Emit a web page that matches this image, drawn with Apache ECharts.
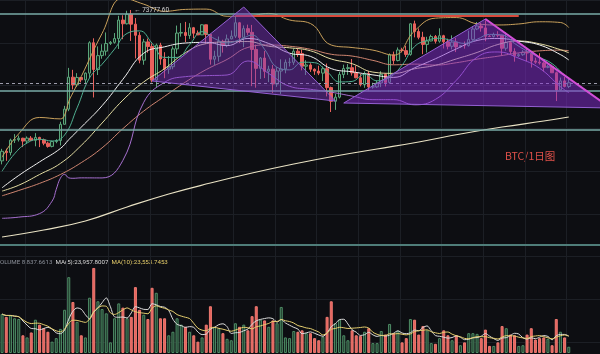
<!DOCTYPE html>
<html><head><meta charset="utf-8">
<script src="https://cdn.jsdelivr.net/npm/echarts@6/dist/echarts.min.js"></script>
<style>html,body{margin:0;padding:0;background:#0d0e12;}#c{width:600px;height:354px;}</style>
</head><body><div id="c"></div>
<script>
// ---- categories (daily, from 2024-02-12; extra empty days on the right) ----
const startDay = Date.UTC(2024, 1, 12);
const categories = [];
for (let i = 0; i < 144; i++) categories.push(new Date(startDay + i * 86400000).toISOString().slice(0, 10));

// ---- candles: [open, close, low, high] ----
const candles = [
[48300,49917,47710,50334],[49917,49699,48300,50368],[49699,51795,49225,52043],[51795,51880,51314,52816],
[51880,52125,51566,52572],[52125,51642,50625,52200],[51642,52137,51216,52431],[52137,51774,51677,52488],
[51774,52258,50760,52985],[52258,51849,50625,52366],[51849,51288,50940,52065],[51288,50744,50525,51548],
[50744,51568,50585,51698],[51568,51728,51279,51958],[51728,54476,50901,54910],[54476,57037,54450,57588],
[57037,62432,56691,64000],[62432,61130,60364,63676],[61130,62387,60777,63114],[62387,61987,61561,62433],
[61987,63113,61320,63231],[63113,68245,62300,68499],[68245,63724,59005,69000],[63724,66074,62800,67637],
[66074,66823,65551,67985],[66823,68124,66082,69990],[68124,68313,67861,68541],[68313,68955,68094,69887],
[68955,72078,67194,72800],[72078,71452,68845,72890],[71452,73072,71334,73650],[73072,71388,68555,73777.6],
[71388,69499,65600,72419],[69499,65300,64780,70043],[65300,68393,64533,68904],[68393,67609,66565,68956],
[67609,61937,61555,68124],[61937,67840,60775,68100],[67840,65501,64529,68240],[65501,63797,62260,66650],
[63797,64209,63000,65999],[64209,67211,63772,67628],[67211,69880,66385,71150],[69880,69988,69280,71561],
[69988,69469,68359,71769],[69469,70780,68903,71552],[70780,69850,69009,70916],[69850,69582,69540,70321],
[69582,71280,69562,71366],[71280,69649,68062,71288],[69649,65463,64550,69674],[65463,65963,64493,66903],
[65963,68487,65064,69291],[68487,67820,66578,68756],[67820,68896,67491,69629],[68896,69360,68824,70326],
[69360,71620,69043,72797],[71620,69146,68210,71758],[69146,70631,67518,71172],[70631,70006,69567,71305],
[70006,67116,60919,71256],[67116,63924,60660,67929],[63924,65661,62134,65840],[65661,63419,62274,66867],
[63419,63793,61600,64365],[63793,61277,59768,64499],[61277,63470,60803,64117],[63470,63818,59600,65449],
[63818,64940,63090,65419],[64940,64941,64237,65700],[64941,66819,64500,67233],[66819,66414,65864,67199],
[66414,64289,63589,67075],[64289,64498,62794,65297],[64498,63770,63322,64789],[63770,63461,62824,63923],
[63461,63118,62781,64370],[63118,63866,61765,64228],[63866,60672,59191,64734],[60672,58364,56552,60841],
[58364,59060,56911,59625],[59060,62882,58849,63320],[62882,63892,62274,64545],[63892,64038,62822,64646],
[64038,63161,62700,65500],[63161,62334,62250,64390],[62334,61187,60866,62995],[61187,63049,60648,63404],
[63049,60792,60187,63469],[60792,60793,60492,61490],[60793,61448,60630,61850],[61448,62901,60750,63450],
[62901,61552,60870,63102],[61552,66206,61316,66444],[66206,65235,64602,66752],[65235,67024,65106,67451],
[67024,66915,66600,67400],[66915,66274,65857,67700],[66274,71446,66060,71515],[71446,70148,69162,71979],
[70148,69166,68832,70666],[69166,67969,66312,70096],[67969,68549,66600,69250],[68549,69290,68500,69610],
[69290,68507,68128,69562],[68507,69436,68250,70687],[69436,68398,67277,69591],[68398,67652,67124,68935],
[67652,68352,67128,69500],[68352,67540,66670,69044],[67540,67766,67445,67860],[67766,67765,67257,68460],
[67765,68809,67612,70288],[68809,70567,68567,71063],[70567,71082,70383,71758],[71082,70757,70119,71625],
[70757,69342,68500,71997],[69342,69305,69210,69531],[69305,69648,69130,69950],[69648,69508,69172,70195],
[69508,67314,66051,69563],[67314,68263,66902,69999],[68263,66773,66251,68449],[66773,66043,65056,67315],
[66043,66228,65830,66478],[66228,66677,66034,66998],[66677,66505,65130,67298],[66505,65175,64060,66587],
[65175,64974,64694,65727],[64974,64828,64559,66482],[64828,64096,63379,65067],[64096,64253,63943,64520],
[64253,63180,63178,64525],[63180,60277,58402,63369],[60277,61806,60239,62362],[61806,60865,60712,62487],
[60865,61500,60585,62293]
];

// ---- volume (BTC) ----
const volumes = [
55000,51000,53000,49000,48000,25000,22000,29000,47000,40000,
35000,30000,16000,21000,34000,61000,107000,72000,44000,25000,
22000,78000,120000,73000,62000,56000,15000,49000,70000,64000,
49000,51000,93000,61000,54000,48000,92000,85000,49000,49000,
25000,30000,49000,40000,37000,30000,25000,16000,22000,40000,
66000,37000,35000,28000,20000,18000,42000,37000,40000,32000,
52000,66000,47000,46000,37000,46000,42000,65000,22000,21000,
31000,30000,32000,28000,28000,21000,18000,23000,51000,73000,
42000,47000,25000,18000,32000,25000,24000,30000,35000,14000,
14000,31000,26000,41000,28000,31000,15000,21000,48000,47000,
26000,38000,32000,14000,13000,21000,32000,25000,18000,25000,
11000,15000,28000,28000,27000,21000,33000,10000,10000,15000,
38000,35000,26000,25000,10000,11000,26000,35000,19000,21000,
22000,20000,11000,48000,30000,22000,8837.66
];

// ---- indicator lines: [day index, price] ----
const ma7Line = [[0,46550],[3,49500],[6,51320],[9,51950],[12,51660],[15,52670],[18,57250],[21,62330],[24,64620],[27,67180],[30,69830],[33,70250],[36,68170],[39,65770],[42,65770],[45,67910],[48,70120],[51,68940],[54,68220],[57,68760],[60,69540],[63,67130],[66,64090],[69,63670],[72,64960],[75,64880],[78,63380],[81,61630],[84,61720],[87,62930],[90,61820],[93,62390],[96,64470],[99,67610],[102,68640],[105,69010],[108,68600],[111,68130],[114,68840],[117,69660],[120,69570],[123,68120],[126,66830],[129,65780],[132,64720],[135,62760],[136,62280]];
const bollMid = [[0,43760],[4,45840],[9,48130],[14,50390],[16,51880],[19,53990],[24,57620],[29,62080],[34,66480],[39,67560],[44,68200],[49,68310],[54,67760],[59,68970],[64,68120],[69,66490],[74,65950],[79,63880],[84,63340],[89,62820],[94,62400],[99,64020],[104,65540],[109,67200],[114,68630],[119,68970],[124,68530],[129,67870],[134,66250],[136,65340]];
const bollUpper = [[0,48920],[4,52880],[9,55630],[14,55390],[15,56020],[16,58320],[17,59800],[19,62550],[24,69820],[29,75780],[34,74760],[39,73560],[44,73880],[49,73930],[54,72720],[59,72760],[64,73200],[69,72090],[74,71500],[79,67860],[84,67440],[89,67000],[94,66160],[99,70260],[104,72400],[109,72500],[114,71450],[119,71250],[124,71420],[129,71790],[134,71670],[136,70840]];
const bollLower = [[0,38600],[4,38800],[9,39400],[12,41500],[13,43500],[14,45380],[15,46020],[16,45430],[17,45360],[19,45430],[24,45420],[29,48390],[34,58190],[39,61570],[44,62520],[49,62690],[54,62800],[59,65170],[64,63050],[69,60890],[74,60390],[79,59900],[84,59240],[89,58640],[94,58640],[99,57770],[104,58680],[109,61900],[114,65810],[119,66690],[124,65630],[129,63940],[134,60830],[136,59840]];
const ma30Line = [[0,43200],[4,44190],[9,46000],[14,47870],[19,50910],[24,54690],[29,58560],[34,61630],[39,63870],[44,66570],[49,68100],[54,68390],[59,68450],[64,67660],[69,67390],[74,66890],[79,65500],[84,64710],[89,63290],[94,63080],[99,63850],[104,64440],[109,65510],[114,66610],[119,67950],[124,68530],[129,68070],[134,67080],[136,66560]];
const ma45Line = [[0,42400],[4,43300],[9,44500],[14,46000],[19,48000],[24,50500],[29,53740],[34,56710],[39,59200],[44,61600],[49,63720],[54,65430],[59,67460],[64,67880],[69,67660],[74,67150],[79,66300],[84,66000],[89,65270],[94,64520],[99,64640],[104,64480],[109,64870],[114,65480],[119,65980],[124,66540],[129,66880],[134,67000],[136,66900]];
const ma200Line = [[0,35440],[10,36630],[20,38150],[30,40510],[40,42710],[50,44560],[60,46250],[70,47770],[80,49120],[90,50300],[100,51490],[110,52840],[120,54020],[130,55030],[136,55710]];

// ---- drawn levels and harmonic pattern vertices [day index, price] ----
const levels = { top: 73100, mid: 60100, low: 53510, last: 61450, pane: 34200 };
const redLevel = { from: 56, to: 124, price: 72800 };
const patternA = [[35.9, 61790], [57.8, 74280], [80.3, 58410]];
const patternB = [[81.5, 58070], [116, 72260], [146.4, 57230]];
const highMark = { index: 31, price: 73777.6 };

// ---- volume legend values ----
const volLegend = { volume: '8,837.6613', ma5: '23,957.8007', ma10: '23,553.7453' };

// ---- derived ----
const isUp = candles.map(c => c[1] >= c[0]);
const volData = volumes.map((v, i) => ({
  value: v,
  itemStyle: isUp[i] ? { color: '#1b3527', borderColor: '#4f8d66', borderWidth: 1 }
                     : { color: '#e5625c', borderColor: '#ef7a72', borderWidth: 1 }
}));
function movingAvg(arr, n) {
  return arr.map((_, i) => { const s = arr.slice(Math.max(0, i - n + 1), i + 1); return s.reduce((a, b) => a + b, 0) / s.length; });
}
const volMa5 = movingAvg(volumes, 5);
const volMa10 = movingAvg(volumes, 10);

const gridCol = '#1c1f25';
const catAxis = (gi) => ({
  type: 'category', gridIndex: gi, data: categories, boundaryGap: true,
  axisLine: { show: false }, axisTick: { show: false }, axisLabel: { show: false },
  splitLine: { show: true, interval: (i) => i % 10 === 6, lineStyle: { color: gridCol, width: 1 } }
});
function priceLine(data, color, width) {
  return { type: 'line', xAxisIndex: 0, yAxisIndex: 0, data, smooth: 0.45, symbol: 'none', showSymbol: false,
    lineStyle: { color, width: width || 1 }, z: 3, silent: true };
}
const teal = { color: '#78aba7', width: 1.5, type: 'solid' };

const chart = echarts.init(document.getElementById('c'), null, { renderer: 'canvas' });
chart.setOption({
  backgroundColor: '#0d0e12',
  animation: false,
  grid: [
    { left: -3.3, top: 0, width: 606.2, height: 245 },
    { left: -3.3, top: 246, width: 606.2, height: 107 },
    { left: 0, top: -2, width: 600, height: 356 }
  ],
  xAxis: [catAxis(0), catAxis(1),
    { type: 'value', gridIndex: 2, min: 0, max: 600, show: false }],
  yAxis: [
    { type: 'value', gridIndex: 0, min: 34094, max: 75466, axisLine: { show: false }, axisTick: { show: false }, axisLabel: { show: false }, splitLine: { show: false } },
    { type: 'value', gridIndex: 1, min: 0, max: 151000, axisLine: { show: false }, axisTick: { show: false }, axisLabel: { show: false }, splitLine: { show: false } },
    { type: 'value', gridIndex: 2, min: 0, max: 356, interval: 43, inverse: true, axisLine: { show: false }, axisTick: { show: false }, axisLabel: { show: false }, splitLine: { show: true, lineStyle: { color: gridCol } } }
  ],
  series: [
    { type: 'line', xAxisIndex: 2, yAxisIndex: 2, data: [], silent: true },
    {
      type: 'candlestick', xAxisIndex: 0, yAxisIndex: 0, data: candles, barWidth: 3, z: 2,
      itemStyle: { color: '#15251c', borderColor: '#5aa57a', color0: '#e8615c', borderColor0: '#e8615c', borderWidth: 1 },
      markLine: {
        symbol: 'none', silent: true, label: { show: false },
        data: [
          { yAxis: levels.top, lineStyle: teal },
          { yAxis: levels.mid, lineStyle: teal },
          { yAxis: levels.low, lineStyle: teal },
          { yAxis: levels.last, lineStyle: { color: '#9c9cab', width: 1, type: [3, 3] } },
          { yAxis: levels.pane, lineStyle: { color: '#4f7d79', width: 2, type: 'solid' } },
          [ { coord: [redLevel.from, redLevel.price], lineStyle: { color: '#d9493b', width: 2, type: 'solid' } },
            { coord: [redLevel.to, redLevel.price], lineStyle: { color: '#d9493b', width: 2, type: 'solid' } } ]
        ]
      },
      markPoint: {
        symbol: 'circle', symbolSize: 0, silent: true,
        data: [{ coord: [highMark.index, highMark.price],
          label: { show: true, position: 'right', distance: 3, formatter: '← ' + highMark.price.toFixed(2), color: '#d2d2d2', fontSize: 6.4, fontFamily: 'Roboto' } }]
      }
    },
    priceLine(ma200Line, '#e9e2c4', 1.2),
    priceLine(ma45Line, '#cf8570', 1),
    priceLine(ma30Line, '#e4dda2', 1),
    priceLine(bollLower, '#a66fcf', 1),
    priceLine(bollUpper, '#c9a15c', 1),
    priceLine(bollMid, '#f2f2f2', 1),
    priceLine(ma7Line, '#4fae90', 1),
    {
      type: 'custom', xAxisIndex: 0, yAxisIndex: 0, z: 5, silent: true, clip: true, data: [[0, 0]],
      renderItem: (params, api) => {
        const a = patternA.map(p => api.coord(p));
        const b = patternB.map(p => api.coord(p));
        return { type: 'group', children: [
          { type: 'polygon', shape: { points: a }, style: { fill: 'rgba(125,50,195,0.46)', stroke: '#9460d2', lineWidth: 1 } },
          { type: 'polygon', shape: { points: b }, style: { fill: 'rgba(130,45,205,0.52)', stroke: '#9460d2', lineWidth: 1 } },
          { type: 'polyline', shape: { points: [b[1], b[2]] }, style: { stroke: '#d24fd6', lineWidth: 2, fill: null } }
        ] };
      }
    },
    { type: 'bar', xAxisIndex: 1, yAxisIndex: 1, data: volData, barWidth: 3, z: 2, silent: true },
    { type: 'line', xAxisIndex: 1, yAxisIndex: 1, data: volMa5, smooth: 0.3, symbol: 'none', lineStyle: { color: '#dcdcdc', width: 1 }, z: 3, silent: true },
    { type: 'line', xAxisIndex: 1, yAxisIndex: 1, data: volMa10, smooth: 0.3, symbol: 'none', lineStyle: { color: '#e6cf6e', width: 1 }, z: 3, silent: true }
  ],
  graphic: [
    { type: 'text', left: 505, top: 151, silent: true, style: { text: 'BTC/1日图', fill: '#e0514a', fontSize: 10.5, fontFamily: '"Noto Sans CJK SC", "Noto Sans", sans-serif' } },
    { type: 'text', left: -4, top: 259, silent: true, style: {
        text: '{g|VOLUME ' + volLegend.volume + '}  {w|MA(5):' + volLegend.ma5 + '}  {y|MA(10):' + volLegend.ma10 + '}',
        fontSize: 6.2, fontFamily: 'Roboto',
        rich: { g: { fill: '#8b9099', fontSize: 6.2, fontFamily: 'Roboto' }, w: { fill: '#dadada', fontSize: 6.2, fontFamily: 'Roboto' }, y: { fill: '#e6cd6a', fontSize: 6.2, fontFamily: 'Roboto' } } } }
  ]
});
</script></body></html>
